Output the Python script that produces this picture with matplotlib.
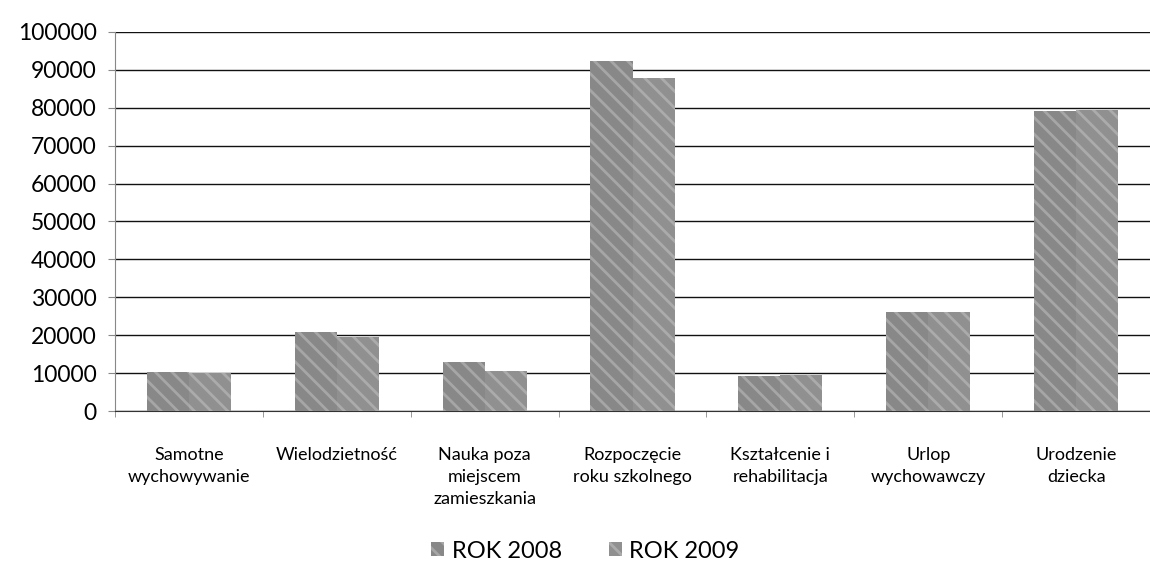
import numpy as np
import matplotlib
matplotlib.use('Agg')
import matplotlib.pyplot as plt
from matplotlib.ticker import FixedLocator

plt.rcParams['font.family'] = ['Lato', 'DejaVu Sans']
plt.rcParams['hatch.linewidth'] = 2.0

# Dane
kategorie = ['Samotne\nwychowywanie', 'Wielodzietność', 'Nauka poza\nmiejscem\nzamieszkania',
             'Rozpoczęcie\nroku szkolnego', 'Kształcenie i\nrehabilitacja', 'Urlop\nwychowawczy',
             'Urodzenie\ndziecka']
rok_2008 = [10300, 20800, 13000, 92200, 9200, 26000, 79200]
rok_2009 = [10100, 19600, 10500, 87700, 9400, 26000, 79400]
serie = ['ROK 2008', 'ROK 2009']

fig = plt.figure(figsize=(11.5, 5.79), dpi=100)
ax = fig.add_axes([0.1, 0.29, 0.9, 0.655])

x = np.arange(len(kategorie))
w = 0.285
ax.bar(x - w / 2, rok_2008, w, color='#888888', hatch='\\\\', edgecolor='#a6a6a6',
       linewidth=0, label=serie[0], zorder=3)
ax.bar(x + w / 2, rok_2009, w, color='#909090', hatch='\\\\', edgecolor='#ababab',
       linewidth=0, label=serie[1], zorder=3)

ax.set_ylim(0, 100000)
ax.set_xlim(-0.5, len(kategorie) - 0.5)
ax.set_yticks(np.arange(0, 100001, 10000))
ax.set_yticklabels([str(v) for v in range(0, 100001, 10000)], fontsize=16.5)
ax.yaxis.grid(True, color='#111111', linewidth=1.0, zorder=0)
ax.set_axisbelow(True)

ax.set_xticks(x)
ax.set_xticklabels(kategorie, fontsize=13, linespacing=1.45, va='top')
ax.tick_params(axis='x', which='major', length=0, pad=26)
ax.xaxis.set_minor_locator(FixedLocator(np.arange(-0.5, len(kategorie), 1.0)))
ax.tick_params(axis='x', which='minor', length=4, color='#888888')
ax.tick_params(axis='y', length=5, color='#888888', pad=8)

for s in ['top', 'right']:
    ax.spines[s].set_visible(False)
ax.spines['left'].set_color('#888888')
ax.spines['bottom'].set_color('#333333')

fig.legend(loc='center', bbox_to_anchor=(0.509, 0.048), ncol=2, frameon=False,
           fontsize=17, handlelength=0.55, handleheight=0.55, handletextpad=0.3,
           columnspacing=2.0)

fig.savefig('out.png', dpi=100)
